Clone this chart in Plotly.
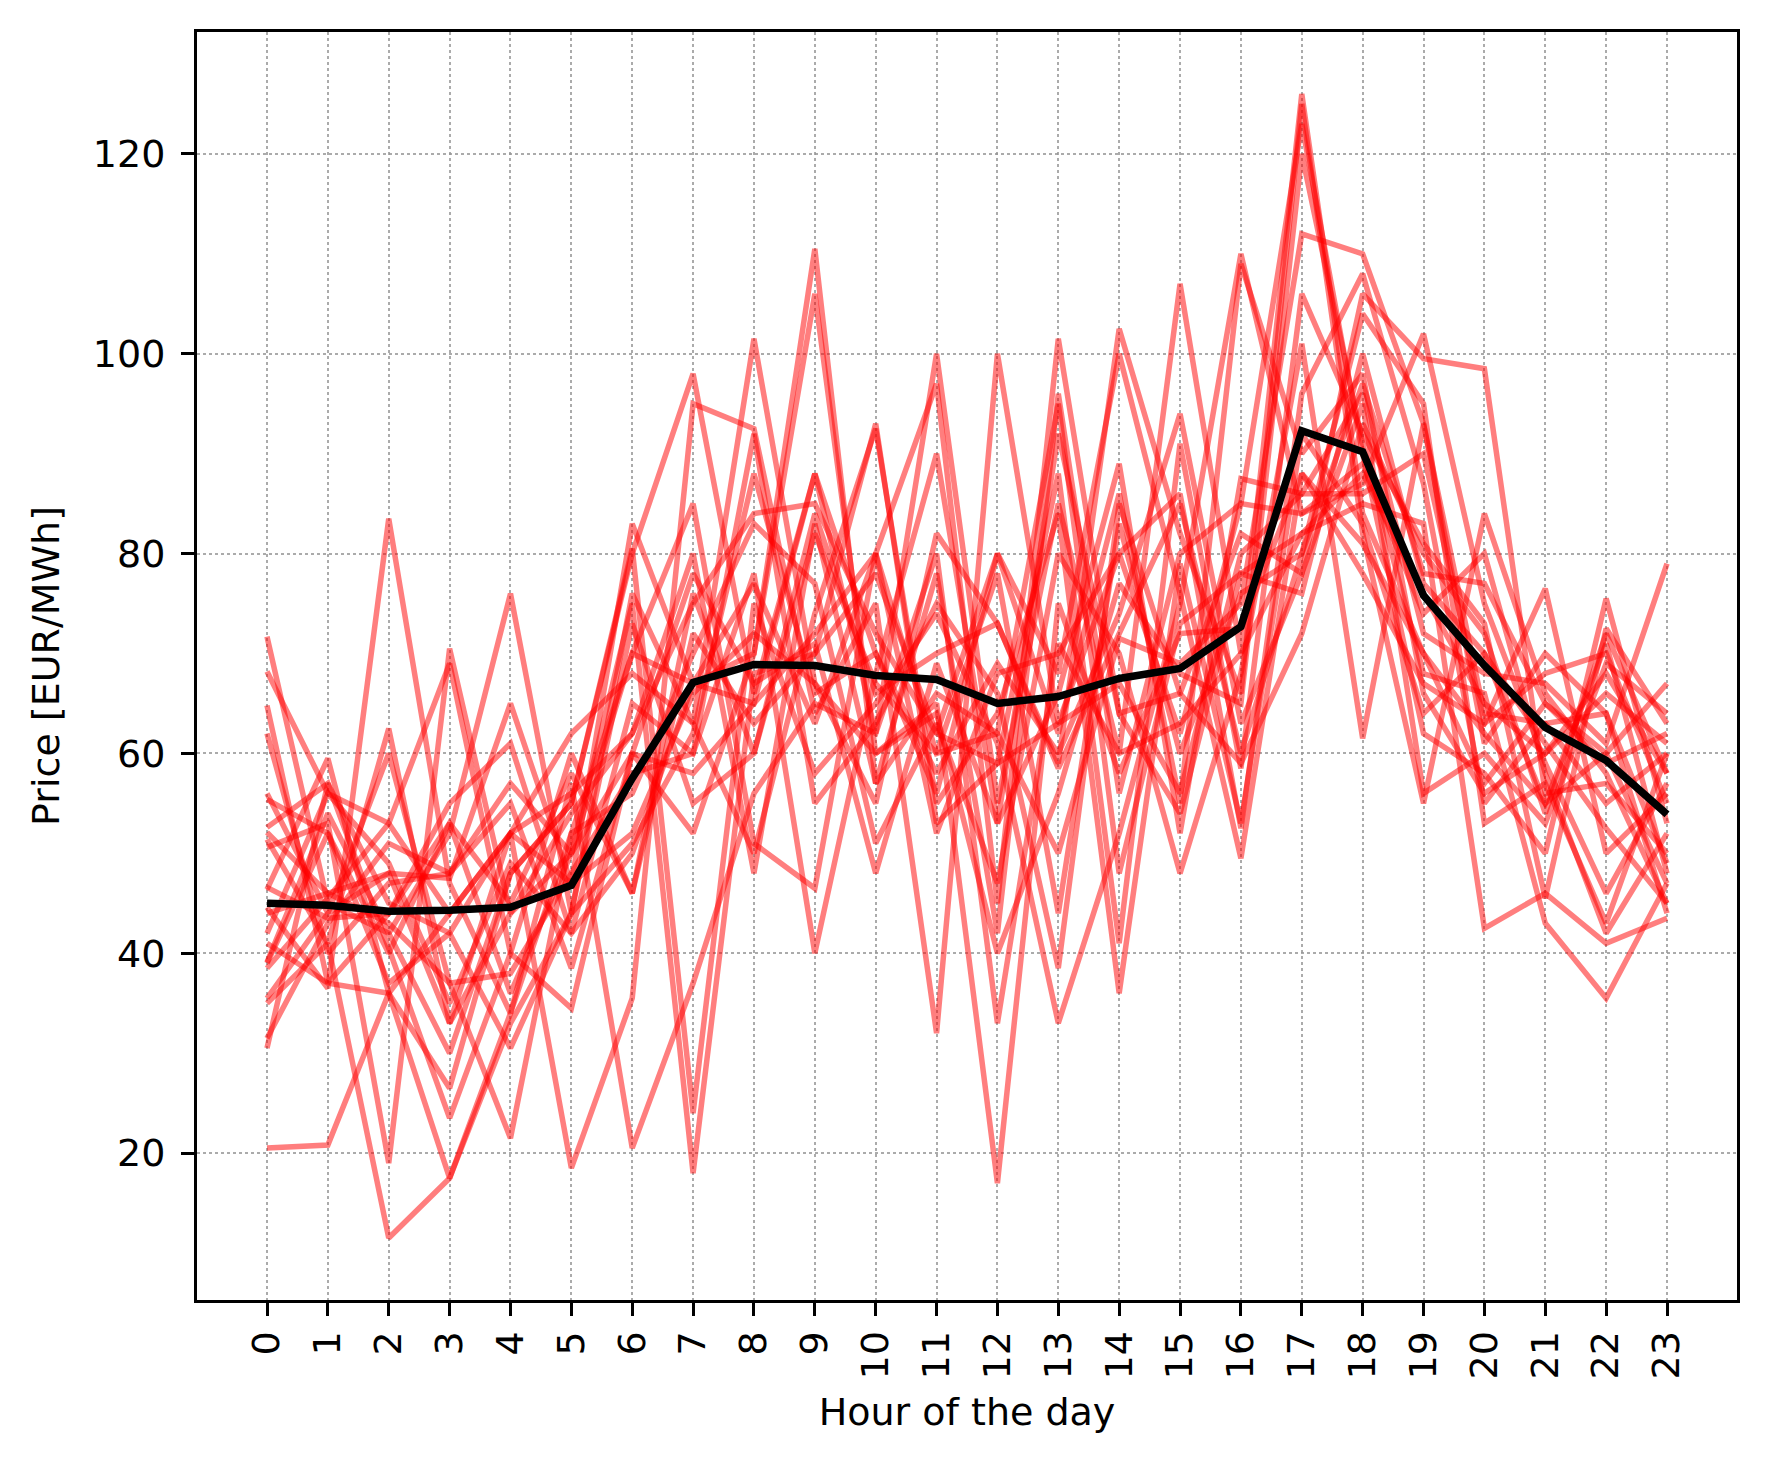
import plotly.graph_objects as go

hours = list(range(24))

# daily price curves (EUR/MWh), one list per day
days = [
    [71.7, 45, 42, 30, 48, 55, 80, 98, 66, 88, 62, 100, 55, 85, 60, 107, 70, 126, 84, 70, 62, 55, 71, 48],
    [68.2, 56, 53, 44, 52, 56, 62, 75, 84, 85, 72, 62, 80, 62, 86, 55, 109, 90, 98, 66, 56, 60, 68, 58],
    [64.8, 37, 44, 53, 36, 50, 60, 58, 65, 72, 80, 52, 68, 70, 80, 62, 85, 84, 89, 74, 80, 58, 42, 52],
    [62, 40, 47, 48, 55, 38.5, 60, 52, 70, 110.5, 57, 66, 62, 50, 71.5, 69, 75, 112, 110, 93, 64, 63, 55, 60],
    [56, 44, 60, 37, 21.5, 52, 70, 85, 51, 46.5, 80, 97, 45, 101.5, 64, 54, 78, 76, 100, 77, 70, 55, 60, 67],
    [55.4, 52, 37, 42, 30.5, 44, 76, 63, 101.5, 67, 55, 82, 73, 59, 102.5, 82, 66, 125, 82, 55, 84, 66, 58, 45],
    [52.6, 57, 40.5, 23.5, 40, 60, 46, 72, 63, 70, 93, 53, 59, 88, 41, 91, 58.5, 106, 92, 81, 73, 45.5, 72.5, 63],
    [52.1, 46, 48, 47.5, 65, 47, 83, 67, 70, 106, 60, 65, 17, 75, 58, 72, 72.5, 88, 78, 67, 63, 76.5, 50, 56],
    [51.4, 41, 62.5, 33, 52, 18.5, 35.5, 95, 92.5, 64, 75, 32, 100, 63, 80, 86, 52.5, 96, 108, 87, 55, 63, 64, 44],
    [50.6, 53, 19, 70.5, 44, 54, 62, 80, 48, 83, 57, 78, 42, 96, 56, 80, 85, 123, 90, 62, 58, 50, 75.5, 53],
    [46.6, 43.5, 44, 55, 61, 42, 65, 60, 78, 40, 68, 90, 53, 66, 89, 52, 87.5, 86, 96, 72, 68, 67, 61, 79],
    [46.4, 59.5, 36, 26.5, 48, 55, 80.5, 24, 75, 58, 65, 74, 61, 33, 52, 75, 110, 84, 87, 102, 75, 59, 46, 57],
    [44.6, 36.5, 83.5, 47, 34, 52, 56, 70, 83, 77, 51, 63, 47, 80, 70, 48, 68, 101, 61.5, 93, 61, 70, 64, 49],
    [41, 37, 36, 17.5, 33, 44, 73, 55, 60, 82, 67, 60, 78, 44, 83, 60, 76, 80, 104, 95, 53, 57, 43, 60],
    [39.1, 54, 42, 52, 76, 44, 51, 62, 88, 66, 70, 58, 69, 60, 74, 94, 63, 78, 95, 56, 60, 53, 69, 64],
    [38.5, 45.5, 53, 69, 40, 34.5, 60, 78, 67, 71, 48, 69, 53, 92, 64, 66, 82, 78, 106, 99.5, 98.5, 56, 57, 50],
    [35, 41, 11.5, 17.5, 34, 57, 20.5, 37, 56, 65, 62, 80, 33, 71, 60, 63, 70, 82, 85, 83, 42.5, 46, 41, 43.5],
    [30.5, 57, 45, 42, 52, 62, 68, 63, 50, 74, 92.5, 55, 64, 84, 36, 79, 53, 92, 83, 64, 70, 61, 52.5, 45],
    [20.5, 20.8, 36, 44, 52, 47, 52, 66, 72, 67, 60, 64, 40, 56, 77, 68, 65, 120, 91, 68, 66, 43, 35.5, 47],
    [39, 52, 40, 53, 45, 58, 46, 76, 60, 84, 66, 70, 73, 58.5, 72, 85, 60, 80, 97, 78, 77, 65, 59, 62],
    [35.5, 44, 48, 33, 44, 50, 75, 18, 68, 70, 78, 62, 59, 63, 67, 56, 80, 86, 86, 90, 63, 68, 70, 55],
    [44, 46, 43, 37, 38, 48, 58, 60, 92, 55, 63, 75, 66, 38.5, 85, 66, 59, 72, 93, 80, 72, 54, 72, 58],
    [42, 56, 49, 35, 49, 42, 50, 67, 65, 88, 70, 56, 80, 68, 100, 76, 49.5, 88, 81, 70, 57, 65, 60, 47],
    [31.5, 43, 51, 48, 57, 50, 70, 67, 77, 63, 80, 60, 62, 95, 48, 73, 78, 82, 88, 76, 65, 60, 66, 61],
]

# average curve (black)
mean_price = [45.0, 44.8, 44.2, 44.3, 44.6, 46.8, 57.5, 67.1, 68.9, 68.8, 67.8, 67.4,
              65.0, 65.7, 67.5, 68.5, 72.7, 92.3, 90.2, 75.8, 68.8, 62.6, 59.3, 53.9]

y_ticks = [20, 40, 60, 80, 100, 120]

fig = go.Figure()
for d in days:
    fig.add_trace(go.Scatter(x=hours, y=d, mode="lines",
                             line=dict(color="red", width=5.5), opacity=0.5,
                             showlegend=False, hoverinfo="skip"))
fig.add_trace(go.Scatter(x=hours, y=mean_price, mode="lines",
                         line=dict(color="black", width=7.5), showlegend=False))

font = dict(family="DejaVu Sans", size=38, color="black")
grid_col = "rgba(150,150,150,0.8)"
fig.update_layout(
    width=1767, height=1467,
    margin=dict(l=189, r=38, t=24, b=175),
    plot_bgcolor="white", paper_bgcolor="white",
    font=font,
)
fig.update_xaxes(
    range=[-1.15, 24.15], tickvals=hours, ticktext=[str(h) for h in hours],
    tickangle=-90, ticks="outside", ticklen=13, tickwidth=3, tickcolor="black",
    showline=True, linewidth=3, linecolor="black", mirror=True,
    showgrid=True, gridcolor=grid_col, griddash="dot", gridwidth=1.5,
    zeroline=False, tickfont=font,
    title=dict(text="Hour of the day", font=font, standoff=20),
)
fig.update_yaxes(
    range=[5.3, 132.2], tickvals=y_ticks,
    ticks="outside", ticklen=13, tickwidth=3, tickcolor="black",
    showline=True, linewidth=3, linecolor="black", mirror=True,
    showgrid=True, gridcolor=grid_col, griddash="dot", gridwidth=1.5,
    zeroline=False, tickfont=font, ticklabelstandoff=8,
    title=dict(text="Price [EUR/MWh]", font=font, standoff=22),
)

fig.write_html("out.html")
